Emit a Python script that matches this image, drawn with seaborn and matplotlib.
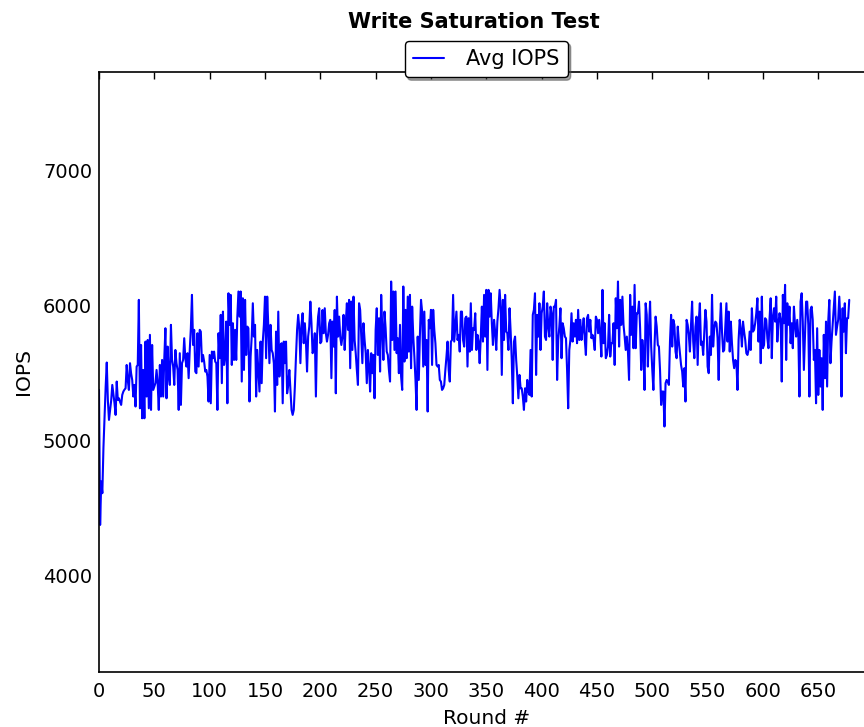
import numpy as np
import matplotlib
matplotlib.use("Agg")
import matplotlib.pyplot as plt
import seaborn as sns

# Avg IOPS per round in chunks
iops_000_114 = [5378, 4378, 4700, 4613, 4950, 5181, 5400, 5581, 5300, 5156,
                5230, 5300, 5415, 5350, 5279, 5193, 5440, 5304, 5316, 5290,
                5267, 5341, 5366, 5380, 5390, 5563, 5450, 5378, 5576, 5500,
                5452, 5329, 5415, 5255, 5551, 5563, 6045,
                5242, 5711, 5168, 5526, 5168, 5736, 5329, 5748, 5242, 5786,
                5230, 5711, 5378, 5403, 5428, 5526, 5428, 5230, 5563, 5329,
                5600, 5329, 5613, 5835, 5316, 5699, 5477, 5415, 5860, 5600,
                5551, 5415, 5674, 5576, 5526, 5230, 5650, 5267, 5576, 5600,
                5761, 5613, 5551, 5650, 5465, 5674, 5835, 6082, 5711, 5823,
                5514, 5502, 5798, 5551, 5823, 5810, 5588, 5637, 5588, 5514,
                5526, 5477, 5292, 5637, 5279, 5662, 5613, 5662, 5588, 5576,
                5230, 5798, 5613, 5934, 5428, 5958, 5563, 5625]
iops_115_226 = [5884, 5279, 6094, 5860, 6082, 5563, 5872, 5600, 5823, 5600,
                5921, 6107, 5921, 6107, 5440, 6057, 5526, 6045, 5637, 5847,
                5835, 5292, 5625, 5773, 6020, 5773, 5860, 5329, 5674, 5526,
                5366, 5736, 5428, 5736, 5860, 6069, 5613, 6069, 5847, 5576,
                5860, 5674, 5650, 5576, 5218, 5810, 5415, 5958, 5477, 5711,
                5724, 5279, 5736, 5576, 5736, 5353, 5415, 5526, 5378, 5230,
                5193,
                5230, 5403, 5625, 5823, 5934, 5835, 5576, 5860, 5946, 5724,
                5872, 5736, 5514, 5773, 5847, 6032, 5872, 5650, 5674, 5798,
                5329, 5773, 5921, 5983, 5724, 5736, 5970, 5798, 5983, 5798,
                5736, 5786, 5872, 5897, 5465, 5884, 5699, 5970, 5353, 6069,
                5773, 5921, 5773, 5711, 5773, 5934, 5674, 5872, 6020, 5823,
                6045]
iops_227_339 = [5539, 6032, 5674, 6069, 5748, 5650, 5526, 5415, 6020, 5971,
                5773, 5576, 5872, 5748, 5650, 5428, 5674, 5551, 5366, 5650,
                5502, 5637, 5316, 5823, 5983, 5637, 5909, 5514, 6082, 5823,
                5600, 5958, 5835, 5662, 5637, 5526, 5440, 6181, 5748, 6107,
                5674, 6107, 5650, 5761, 5502, 5860, 5477, 5378, 6144, 5588,
                5971, 5613, 6069, 5662, 6082, 5539, 5995, 5773, 5625, 5452,
                5230,
                5773, 5452, 5786, 6045, 5958, 5551, 5958, 5563, 5748, 5218,
                5897, 5835, 5971, 5563, 5971, 5823, 5724, 5563, 5551, 5563,
                5452, 5440, 5378, 5390, 5415, 5526, 5625, 5736, 5526, 5440,
                5736, 5748, 6082, 5736, 5847, 5958, 5748, 5786, 5662, 5958,
                5958, 5748, 5699, 5909, 5921, 5551, 5909, 5662, 6020, 5674,
                5835, 5823]
iops_340_451 = [5946, 5674, 5786, 5736, 5576, 5773, 5995, 5736, 6082, 5773,
                6119, 5526, 6119, 5921, 6094, 5872, 5711, 5897, 5810, 5674,
                5884, 5983, 6119, 5995, 5489, 6045, 5748, 6082, 5810, 5798,
                5674, 5983, 5810, 5600, 5279, 5736, 5773, 5600, 5477, 5316,
                5489, 5390, 5390, 5329, 5230,
                5390, 5292, 5452, 5366, 5341, 5674, 5329, 5934, 5971, 6094,
                5489, 5934, 5773, 6020, 5674, 5946, 5995, 6107, 5773, 5748,
                6020, 5847, 5773, 5995, 5946, 5600, 5995, 5995, 6045, 5452,
                5748, 5847, 5983, 5613, 5872, 5835, 5773, 5761, 5526, 5242,
                5674, 5748, 5946, 5736, 5872, 5773, 5897, 5724, 5971, 5748,
                5897, 5748, 5823, 5909, 5748, 5637, 5909, 5934, 5810, 5897,
                5761, 5786, 5748, 5674, 5921, 5897, 5798]
iops_452_564 = [5897, 5786, 5625, 6119, 5724, 5872, 5613, 5637, 5699, 5934,
                5625, 5724, 5724, 5872, 5563, 6057, 5835, 6181, 5699, 6045,
                5860, 6069, 5860, 5773, 5674, 5773, 5662, 5452, 6082, 5786,
                5995, 5687, 6156, 5687, 5946, 5946, 6032, 5835, 5526, 5748,
                5650, 5378, 6020, 5934, 5551, 5835, 6032, 5699, 5526, 5378,
                5699, 5921, 5847, 5711, 5699, 5526, 5267, 5366, 5366, 5107,
                5428, 5452, 5440, 5415, 5736, 5934, 5699, 5897, 5860, 5662,
                5613, 5847, 5736, 5650, 5563, 5514, 5403, 5539, 5292,
                5897, 5860, 5786, 5662, 5860, 6032, 5736, 5613, 5847, 5921,
                5563, 5884, 6020, 5711, 5736, 5637, 5810, 5971, 5884, 5551,
                5502, 5773, 5637, 6082, 5699, 5835, 5884, 5872, 5761, 5452,
                5835, 6020, 5810, 5662]
iops_565_678 = [5674, 5847, 6020, 5736, 5958, 5662, 5884, 5724, 5600, 5539,
                5600, 5588, 5378,
                5748, 5897, 5823, 5699, 5884, 5810, 5748, 5650, 5637, 5674,
                5810, 5674, 5983, 5810, 5823, 5872, 5946, 6057, 5736, 5958,
                5576, 6069, 5687, 5711, 5909, 5897, 5761, 5687, 5909, 6057,
                5613, 5921, 5983, 5884, 6069, 5736, 5872, 5946, 5897, 5440,
                6082, 5872, 6156, 5600, 6020, 5860, 5995, 5724, 5872, 5687,
                5995, 5860, 5773, 5897, 5773, 5329, 6032, 6094, 5884, 5526,
                5786, 6032, 6032, 5860, 5329, 5971, 5995, 5897, 5600, 5674,
                5279, 5835, 5341, 5674, 5403, 5613, 5230,
                5786, 5465, 5884, 5403, 5884, 6045, 5576, 5736, 5860, 5995,
                6107, 5786, 5847, 5897, 6069, 5897, 5329, 5983, 5810, 6020,
                5650, 5909, 5909, 6045]

avg_iops = (iops_000_114 + iops_115_226 + iops_227_339 + iops_340_451
            + iops_452_564 + iops_565_678)
rounds = np.arange(len(avg_iops))

sns.set_style("white")
plt.rcParams['font.family'] = ['DejaVu Sans']
plt.rcParams['text.color'] = 'black'
plt.rcParams['axes.labelcolor'] = 'black'
plt.rcParams['xtick.color'] = 'black'
plt.rcParams['ytick.color'] = 'black'
plt.rcParams['xtick.direction'] = 'in'
plt.rcParams['ytick.direction'] = 'in'

fig = plt.figure(figsize=(8.64, 7.27), dpi=100)
ax = fig.add_axes([0.1146, 0.0757, 0.8965, 0.8253])

sns.lineplot(x=rounds, y=avg_iops, color='#0000ff', linewidth=1.5,
             label='Avg IOPS', ax=ax)

ax.set_xlim(0, 700)
ax.set_ylim(3289, 7733)
ax.set_xticks(np.arange(0, 651, 50))
ax.set_yticks([4000, 5000, 6000, 7000])
ax.tick_params(axis='both', which='major', labelsize=14, length=5, width=1,
               top=True, right=True)
ax.tick_params(axis='x', pad=7)
ax.tick_params(axis='y', pad=5)
for sp in ax.spines.values():
    sp.set_color('black')
    sp.set_linewidth(1.2)

ax.set_xlabel('Round #', fontsize=14.5, labelpad=6)
ax.set_ylabel('IOPS', fontsize=14.5, labelpad=7)
fig.text(0.549, 0.984, 'Write Saturation Test', fontsize=15, fontweight='bold',
         ha='center', va='top')

leg = ax.legend(loc='upper center', bbox_to_anchor=(0.5, 1.052), fontsize=15,
                fancybox=True, shadow=True, handlelength=1.5,
                handletextpad=1.05, frameon=True, borderaxespad=0)
leg.get_frame().set_edgecolor('black')
leg.get_frame().set_linewidth(1.0)
leg.get_frame().set_alpha(1)

fig.savefig('out.png', dpi=100)
